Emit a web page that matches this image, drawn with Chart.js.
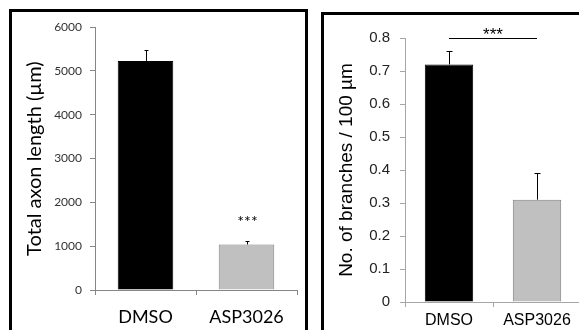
<!DOCTYPE html>
<html>
<head>
<meta charset="utf-8">
<script src="https://cdn.jsdelivr.net/npm/chart.js@4.4.1/dist/chart.umd.min.js"></script>
<style>
  html, body { margin: 0; padding: 0; background: #fff; }
  body { width: 579px; height: 330px; overflow: hidden; position: relative; }
  .panel { position: absolute; border: 3px solid #000; box-sizing: border-box; }
  #panelA { left: 9px; top: 9px; width: 299px; height: 340px; }
  #panelB { left: 321px; top: 12px; width: 300px; height: 340px; }
  canvas { position: absolute; }
  #axonChart { left: 12px; top: 12px; }
  #branchChart { left: 324px; top: 15px; }
</style>
</head>
<body>
<div class="panel" id="panelA"></div>
<div class="panel" id="panelB"></div>
<canvas id="axonChart" width="294" height="318"></canvas>
<canvas id="branchChart" width="262" height="315"></canvas>
<script>
// categories shared by both panels
const categories = ["DMSO", "ASP3026"];

// left panel: total axon length (µm), mean and SEM
const axonLength = [5230, 1040];
const axonLengthErr = [250, 70];
const axonTicks = [0, 1000, 2000, 3000, 4000, 5000, 6000];
const axonStars = ["", "***"];

// right panel: branches per 100 µm, mean and SEM
const branches = [0.72, 0.31];
const branchesErr = [0.04, 0.08];
const branchTicks = [0, 0.1, 0.2, 0.3, 0.4, 0.5, 0.6, 0.7, 0.8];
const branchBracket = [0, 1];
const branchBracketLevel = 0.8;
const branchBracketText = "***";

// upward error whiskers, stars over bars, and an optional bracket
const errorBars = {
  id: "errorBars",
  afterDatasetsDraw(chart, args, opts) {
    const { ctx } = chart;
    const y = chart.scales.y;
    const meta = chart.getDatasetMeta(0);
    const vals = chart.data.datasets[0].data;
    ctx.save();
    ctx.strokeStyle = "#000";
    ctx.fillStyle = "#000";
    ctx.lineWidth = 1;
    meta.data.forEach((bar, i) => {
      const x = Math.round(bar.x) + 0.5;
      const yTop = y.getPixelForValue(vals[i]);
      const yErr = Math.round(y.getPixelForValue(vals[i] + opts.errors[i])) + 0.5;
      ctx.beginPath();
      ctx.moveTo(x, yTop);
      ctx.lineTo(x, yErr);
      ctx.moveTo(x - opts.cap, yErr);
      ctx.lineTo(x + opts.cap, yErr);
      ctx.stroke();
      if (opts.stars && opts.stars[i]) {
        ctx.font = opts.starFont;
        ctx.textAlign = "center";
        ctx.textBaseline = "alphabetic";
        ctx.fillText(opts.stars[i], x, yErr - opts.starGap);
      }
    });
    if (opts.bracket) {
      const x0 = meta.data[opts.bracket[0]].x;
      const x1 = meta.data[opts.bracket[1]].x;
      const yb = Math.round(y.getPixelForValue(opts.bracketLevel)) + 0.5;
      ctx.beginPath();
      ctx.moveTo(x0, yb);
      ctx.lineTo(x1, yb);
      ctx.stroke();
      ctx.font = opts.starFont;
      ctx.textAlign = "center";
      ctx.textBaseline = "alphabetic";
      ctx.fillText(opts.bracketText, (x0 + x1) / 2, yb + 1);
    }
    ctx.restore();
  }
};

function axisLook(color) {
  return {
    grid: { display: true, drawOnChartArea: false, drawTicks: true, tickLength: 5, color: color },
    border: { display: true, color: color }
  };
}

// left panel
new Chart(document.getElementById("axonChart"), {
  type: "bar",
  data: {
    labels: categories,
    datasets: [{
      data: axonLength,
      backgroundColor: ["#000000", "#c0c0c0"],
      borderColor: ["#000000", "#808080"],
      borderWidth: 1,
      barPercentage: 0.55,
      categoryPercentage: 1
    }]
  },
  options: {
    responsive: false,
    animation: false,
    devicePixelRatio: 1,
    layout: { padding: { left: 0, right: 9, top: 13, bottom: 0 } },
    plugins: {
      legend: { display: false },
      tooltip: { enabled: false },
      errorBars: { errors: axonLengthErr, cap: 2, stars: axonStars, starFont: "16px Lato", starGap: 15 }
    },
    scales: {
      x: {
        ...axisLook("#868686"),
        grid: { display: true, offset: true, drawOnChartArea: false, tickLength: 5, color: "#868686" },
        ticks: { font: { family: "Lato", size: 18 }, color: "#000", padding: 11, maxRotation: 0, autoSkip: false },
        afterFit: (s) => { s.height = 40; }
      },
      y: {
        ...axisLook("#868686"),
        min: axonTicks[0],
        max: axonTicks[axonTicks.length - 1],
        ticks: {
          stepSize: axonTicks[1] - axonTicks[0],
          callback: (v) => String(v),
          font: { family: "Lato", size: 12 },
          color: "#333",
          padding: 8
        },
        title: {
          display: true,
          text: "Total axon length (µm)",
          font: { family: "Lato", size: 20 },
          color: "#000",
          padding: { top: 11, bottom: 0 }
        },
        afterFit: (s) => { s.width = 83; }
      }
    }
  },
  plugins: [errorBars]
});

// right panel
new Chart(document.getElementById("branchChart"), {
  type: "bar",
  data: {
    labels: categories,
    datasets: [{
      data: branches,
      backgroundColor: ["#000000", "#c0c0c0"],
      borderColor: ["#000000", "#7f7f7f"],
      borderWidth: 1,
      barPercentage: 0.55,
      categoryPercentage: 1
    }]
  },
  options: {
    responsive: false,
    animation: false,
    devicePixelRatio: 1,
    layout: { padding: { left: 0, right: 5, top: 23, bottom: 0 } },
    plugins: {
      legend: { display: false },
      tooltip: { enabled: false },
      errorBars: {
        errors: branchesErr, cap: 3, starFont: "17px 'Liberation Sans'",
        bracket: branchBracket, bracketLevel: branchBracketLevel, bracketText: branchBracketText
      }
    },
    scales: {
      x: {
        ...axisLook("#a6a6a6"),
        grid: { display: true, offset: true, drawOnChartArea: false, tickLength: 5, color: "#a6a6a6" },
        ticks: { font: { family: "'Liberation Sans'", size: 16 }, color: "#000", padding: 4, maxRotation: 0, autoSkip: false },
        afterFit: (s) => { s.height = 28; }
      },
      y: {
        ...axisLook("#a6a6a6"),
        min: branchTicks[0],
        max: branchTicks[branchTicks.length - 1],
        ticks: {
          stepSize: 0.1,
          callback: (v) => String(Math.round(v * 10) / 10),
          font: { family: "'Liberation Sans'", size: 15 },
          color: "#222",
          padding: 10
        },
        title: {
          display: true,
          text: "No. of branches / 100 µm",
          font: { family: "'Liberation Sans'", size: 19 },
          color: "#000",
          padding: { top: 11, bottom: 0 }
        },
        afterFit: (s) => { s.width = 81; }
      }
    }
  },
  plugins: [errorBars]
});
</script>
</body>
</html>
